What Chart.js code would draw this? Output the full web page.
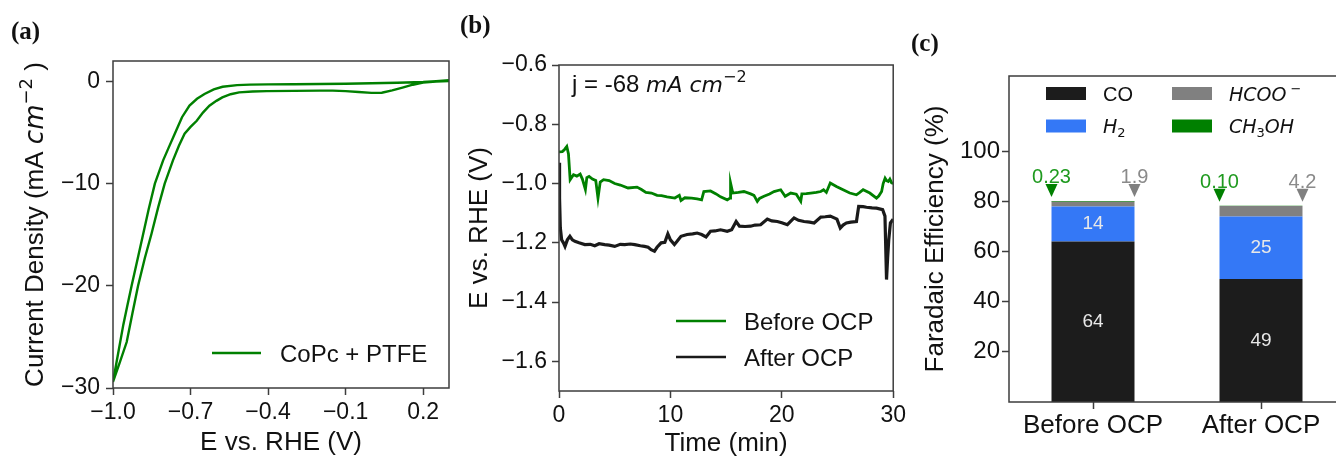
<!DOCTYPE html>
<html>
<head>
<meta charset="utf-8">
<script src="https://cdn.jsdelivr.net/npm/chart.js@4.4.0/dist/chart.umd.min.js"></script>
<style>
  html, body { margin: 0; padding: 0; background: #fff; width: 1336px; height: 457px; overflow: hidden; }
  body { position: relative; }
  canvas { position: absolute; top: 0; }
</style>
</head>
<body>
<canvas id="cvChart" width="460" height="457" style="left:0"></canvas>
<canvas id="cpChart" width="470" height="457" style="left:440px"></canvas>
<canvas id="feChart" width="460" height="457" style="left:900px"></canvas>
<script>
// (a) cyclic voltammogram, CoPc + PTFE (one loop: upper branch then lower branch)
const cvPotential = [
    0.30, 0.25, 0.20, 0.10, 0.00, -0.10, -0.20, -0.30, -0.40, -0.47,
    -0.52, -0.576, -0.61, -0.646, -0.675, -0.704, -0.733, -0.761, -0.785, -0.806,
    -0.838, -0.862, -0.883, -0.905, -0.928, -0.945, -0.960, -0.980, -1.000,
    -0.975, -0.947, -0.925, -0.903, -0.877, -0.851, -0.825, -0.800, -0.768, -0.745,
    -0.723, -0.700, -0.676, -0.652, -0.627, -0.600, -0.577, -0.545, -0.512, -0.460,
    -0.405, -0.30, -0.20, -0.15, -0.10, -0.05, 0.00, 0.04, 0.08, 0.12,
    0.16, 0.20, 0.25, 0.30
];
const cvCurrent = [
    0.12, 0.03, -0.05, -0.13, -0.18, -0.22, -0.25, -0.27, -0.29, -0.31,
    -0.36, -0.52, -0.78, -1.23, -1.70, -2.37, -3.50, -5.12, -6.50, -7.72,
    -10.0, -12.5, -14.9, -17.4, -20.0, -22.0, -23.8, -26.6, -29.4,
    -27.6, -25.5, -22.7, -20.0, -17.3, -14.9, -12.3, -10.0, -7.72, -6.30,
    -5.12, -4.45, -3.85, -3.05, -2.37, -1.90, -1.56, -1.25, -1.07, -0.99,
    -0.95, -0.92, -0.90, -0.90, -0.95, -1.03, -1.12, -1.10, -0.88, -0.60,
    -0.32, -0.12, -0.02, 0.05
];
const cvTicksX = [-1.0, -0.7, -0.4, -0.1, 0.2];
const cvTicksY = [0, -10, -20, -30];

// (b) chronopotentiometry at j = -68 mA cm-2
const timeBefore = [
    0.0, 0.3, 0.5, 0.7, 0.85, 1.0, 1.3, 1.6, 1.9, 2.1,
    2.37, 2.5, 2.7, 3.0, 3.3, 3.5, 3.7, 4.0, 4.5, 5.0,
    5.5, 6.2, 7.0, 7.4, 7.8, 8.3, 8.8, 9.2, 9.7, 10.4,
    10.8, 10.95, 11.3, 11.9, 12.4, 12.8, 13.0, 13.6, 14.1, 14.5,
    15.1, 15.35, 15.4, 15.6, 16.1, 16.6, 17.2, 17.5, 17.8, 18.0,
    18.4, 18.9, 19.3, 19.9, 20.3, 20.8, 21.3, 21.7, 21.8, 22.2,
    22.6, 23.1, 23.5, 23.75, 24.0, 24.35, 24.9, 25.5, 26.1, 26.7,
    27.0, 27.3, 27.9, 28.5, 28.7, 28.96, 29.1, 29.27, 29.4, 29.56,
    29.7, 29.86, 30.0
];
const potentialBefore = [
    -0.893, -0.892, -0.885, -0.875, -0.900, -0.987, -0.970, -0.975, -0.968, -0.985,
    -1.020, -0.980, -0.976, -0.985, -0.990, -1.049, -0.995, -0.987, -0.990, -1.000,
    -1.005, -1.015, -1.012, -1.020, -1.030, -1.032, -1.040, -1.041, -1.045, -1.049,
    -1.040, -1.057, -1.048, -1.049, -1.052, -1.055, -1.027, -1.025, -1.035, -1.045,
    -1.055, -1.049, -0.998, -1.032, -1.030, -1.027, -1.035, -1.040, -1.060, -1.050,
    -1.043, -1.035, -1.027, -1.021, -1.043, -1.032, -1.036, -1.060, -1.035, -1.034,
    -1.032, -1.030, -1.027, -1.021, -1.030, -0.998, -1.010, -1.021, -1.032, -1.038,
    -1.030, -1.021, -1.032, -1.049, -1.042, -1.027, -1.000, -0.982, -0.990, -0.993,
    -0.985, -0.998, -1.000
];
const timeAfter = [
    0.0, 0.05, 0.12, 0.24, 0.4, 0.54, 0.75, 0.98, 1.2, 1.43,
    1.8, 2.32, 2.8, 3.21, 3.6, 4.1, 4.5, 5.0, 5.5, 5.9,
    6.4, 6.8, 7.3, 7.68, 8.0, 8.27, 8.57, 8.8, 9.17, 9.5,
    9.77, 10.0, 10.36, 10.6, 10.95, 11.5, 12.0, 12.4, 12.8, 13.2,
    13.6, 14.0, 14.5, 15.1, 15.5, 15.9, 16.2, 16.7, 17.2, 17.6,
    18.1, 18.7, 19.1, 19.6, 20.0, 20.5, 21.1, 21.5, 22.0, 22.5,
    22.9, 23.5, 23.9, 24.35, 24.95, 25.25, 25.5, 25.8, 26.2, 26.7,
    26.9, 27.3, 27.6, 28.1, 28.5, 29.05, 29.26, 29.4, 29.5, 29.6,
    29.75, 30.0
];
const potentialAfter = [
    -0.930, -1.050, -1.150, -1.190, -1.200, -1.212, -1.190, -1.178, -1.190, -1.195,
    -1.200, -1.206, -1.205, -1.210, -1.203, -1.206, -1.208, -1.212, -1.205, -1.206,
    -1.204, -1.206, -1.210, -1.212, -1.215, -1.223, -1.228, -1.215, -1.200, -1.198,
    -1.170, -1.190, -1.206, -1.195, -1.178, -1.172, -1.170, -1.167, -1.172, -1.180,
    -1.161, -1.160, -1.156, -1.161, -1.156, -1.128, -1.144, -1.145, -1.144, -1.140,
    -1.139, -1.120, -1.126, -1.128, -1.132, -1.139, -1.116, -1.124, -1.128, -1.130,
    -1.133, -1.113, -1.112, -1.110, -1.120, -1.150, -1.140, -1.133, -1.130, -1.128,
    -1.077, -1.078, -1.080, -1.082, -1.083, -1.088, -1.110, -1.324, -1.250, -1.190,
    -1.133, -1.120
];
const cpTicksX = [0, 10, 20, 30];
const cpTicksY = [-0.6, -0.8, -1.0, -1.2, -1.4, -1.6];

// (c) Faradaic efficiency (%)
const conditions = ['Before OCP', 'After OCP'];
const feCO = [64, 49];
const feH2 = [14, 25];
const feHCOO = [1.9, 4.2];
const feCH3OH = [0.23, 0.10];
const feTicksY = [20, 40, 60, 80, 100];

const SANS = '"Liberation Sans", Arial, Helvetica, sans-serif';
const MATH = '"DejaVu Sans", sans-serif';
const SERIF = '"Liberation Serif", "DejaVu Serif", serif';
const INK = '#111';
const FRAME = '#3d3d3d';

// tick label with a real minus sign
const fmtMinus = digits => v => (v < 0 ? '\u2212' : '') + Math.abs(v).toFixed(digits);

// draw a run of text pieces (fonts / super- & subscripts), optionally rotated
function drawRich(ctx, segs, x, y, opts = {}) {
    ctx.save();
    ctx.translate(x, y);
    if (opts.rotate) ctx.rotate(-Math.PI / 2);
    ctx.textBaseline = 'alphabetic';
    ctx.textAlign = 'left';
    let width = 0;
    segs.forEach(s => { ctx.font = s.font; width += ctx.measureText(s.text).width; });
    let cx = opts.center ? -width / 2 : 0;
    segs.forEach(s => {
        ctx.font = s.font;
        ctx.fillStyle = s.color || opts.color || INK;
        ctx.fillText(s.text, cx, s.dy || 0);
        cx += ctx.measureText(s.text).width;
    });
    ctx.restore();
}

function drawTag(ctx, text, x, y) {
    ctx.save();
    ctx.font = `bold 25px ${SERIF}`;
    ctx.fillStyle = INK;
    ctx.textBaseline = 'alphabetic';
    ctx.fillText(text, x, y);
    ctx.restore();
}

const framePlugin = {
    id: 'frame',
    afterDraw(chart) {
        const { ctx, chartArea: a } = chart;
        ctx.save();
        ctx.strokeStyle = FRAME;
        ctx.lineWidth = 1.5;
        ctx.strokeRect(a.left, a.top, a.right - a.left, a.bottom - a.top);
        ctx.restore();
    }
};

function linearAxis(min, max, tickVals, fmt, size, isX, fontSize, pad) {
    return {
        type: 'linear', min, max,
        afterBuildTicks: s => { s.ticks = tickVals.map(v => ({ value: v })); },
        afterFit: s => { if (isX) s.height = size; else s.width = size; },
        grid: { display: true, drawOnChartArea: false, drawTicks: true, tickLength: 7, tickColor: FRAME, tickWidth: 1.5 },
        border: { display: false },
        ticks: { font: { family: SANS, size: fontSize }, color: INK, padding: pad, autoSkip: false, maxRotation: 0, callback: fmt }
    };
}

const baseOptions = (padTop, padRight) => ({
    responsive: false,
    animation: false,
    events: [],
    layout: { padding: { top: padTop, right: padRight, left: 0, bottom: 0 } },
    plugins: { legend: { display: false }, tooltip: { enabled: false } }
});

// ---------- (a) ----------
const cvDecor = {
    id: 'cvDecor',
    afterDraw(chart) {
        const { ctx, chartArea: a } = chart;
        const ds = chart.data.datasets[0];
        drawTag(ctx, '(a)', 11, 39);
        // legend
        ctx.save();
        ctx.strokeStyle = ds.borderColor;
        ctx.lineWidth = 2.4;
        ctx.beginPath();
        ctx.moveTo(a.left + 99, a.bottom - 35);
        ctx.lineTo(a.left + 148, a.bottom - 35);
        ctx.stroke();
        ctx.restore();
        drawRich(ctx, [{ text: ds.label, font: `24px ${SANS}` }], a.left + 167, a.bottom - 26.5);
        // axis titles
        drawRich(ctx, [{ text: 'E vs. RHE (V)', font: `26px ${SANS}` }], (a.left + a.right) / 2, 450, { center: true });
        drawRich(ctx, [
            { text: 'Current Density (mA ', font: `26px ${SANS}` },
            { text: 'cm', font: `italic 26px ${MATH}` },
            { text: '\u22122', font: `18px ${MATH}`, dy: -11 },
            { text: ' )', font: `26px ${SANS}` }
        ], 43, (a.top + a.bottom) / 2, { rotate: true, center: true });
    }
};

new Chart(document.getElementById('cvChart'), {
    type: 'line',
    data: {
        datasets: [{
            label: 'CoPc + PTFE',
            data: cvPotential.map((e, i) => ({ x: e, y: cvCurrent[i] })),
            borderColor: '#008000',
            borderWidth: 2.4,
            pointRadius: 0,
            tension: 0,
            fill: false
        }]
    },
    options: {
        ...baseOptions(61, 11),
        scales: {
            x: linearAxis(-1.0, 0.3, cvTicksX, fmtMinus(1), 69, true, 23, 4),
            y: linearAxis(-30, 2, cvTicksY, fmtMinus(0), 113, false, 23, 6)
        }
    },
    plugins: [framePlugin, cvDecor]
});

// ---------- (b) ----------
const cpDecor = {
    id: 'cpDecor',
    afterDraw(chart) {
        const { ctx, chartArea: a } = chart;
        drawTag(ctx, '(b)', 20, 33);
        drawRich(ctx, [
            { text: 'j = -68 ', font: `24px ${SANS}` },
            { text: 'mA', font: `italic 22px ${MATH}` },
            { text: ' ', font: `22px ${MATH}` },
            { text: 'cm', font: `italic 22px ${MATH}` },
            { text: '\u22122', font: `16px ${MATH}`, dy: -10 }
        ], a.left + 13, a.top + 27);
        // legend
        chart.data.datasets.forEach((ds, k) => {
            const yRow = a.top + 256 + k * 36;
            ctx.save();
            ctx.strokeStyle = ds.borderColor;
            ctx.lineWidth = 2.4;
            ctx.beginPath();
            ctx.moveTo(a.left + 117, yRow);
            ctx.lineTo(a.left + 167, yRow);
            ctx.stroke();
            ctx.restore();
            drawRich(ctx, [{ text: ds.label, font: `24px ${SANS}` }], a.left + 185, yRow + 8.5);
        });
        drawRich(ctx, [{ text: 'Time (min)', font: `26px ${SANS}` }], (a.left + a.right) / 2, 451, { center: true });
        drawRich(ctx, [{ text: 'E vs. RHE (V)', font: `26px ${SANS}` }], 47, (a.top + a.bottom) / 2, { rotate: true, center: true });
    }
};

new Chart(document.getElementById('cpChart'), {
    type: 'line',
    data: {
        datasets: [{
            label: 'Before OCP',
            data: timeBefore.map((t, i) => ({ x: t, y: potentialBefore[i] })),
            borderColor: '#008000',
            borderWidth: 2.8,
            pointRadius: 0,
            tension: 0
        }, {
            label: 'After OCP',
            data: timeAfter.map((t, i) => ({ x: t, y: potentialAfter[i] })),
            borderColor: '#1a1a1a',
            borderWidth: 3.2,
            pointRadius: 0,
            tension: 0
        }]
    },
    options: {
        ...baseOptions(65, 15),
        scales: {
            x: linearAxis(0, 30, cpTicksX, fmtMinus(0), 66, true, 23, 4),
            y: linearAxis(-1.7, -0.6, cpTicksY, fmtMinus(1), 119, false, 23, 5)
        }
    },
    plugins: [framePlugin, cpDecor]
});

// ---------- (c) ----------
const richLabels = [
    [{ text: 'CO', font: `20px ${SANS}` }],
    [{ text: 'H', font: `italic 19px ${MATH}` }, { text: '2', font: `13px ${MATH}`, dy: 4 }],
    [{ text: 'HCOO', font: `italic 19px ${MATH}` }, { text: ' \u2212', font: `13px ${MATH}`, dy: -8 }],
    [{ text: 'CH', font: `italic 19px ${MATH}` }, { text: '3', font: `13px ${MATH}`, dy: 4 }, { text: 'OH', font: `italic 19px ${MATH}` }]
];
const legendOrder = [0, 2, 1, 3]; // row-major: CO, HCOO- / H2, CH3OH

function drawMarker(ctx, x, top, fill, text, textColor) {
    ctx.save();
    ctx.fillStyle = fill;
    ctx.beginPath();
    ctx.moveTo(x - 6, top - 17);
    ctx.lineTo(x + 6, top - 17);
    ctx.lineTo(x, top - 4);
    ctx.closePath();
    ctx.fill();
    ctx.font = `20px ${SANS}`;
    ctx.fillStyle = textColor;
    ctx.textAlign = 'center';
    ctx.textBaseline = 'alphabetic';
    ctx.fillText(text, x, top - 18);
    ctx.restore();
}

const feDecor = {
    id: 'feDecor',
    afterDatasetsDraw(chart) {
        const { ctx, scales: { y } } = chart;
        // numbers inside the CO and H2 segments
        [0, 1].forEach(di => {
            chart.getDatasetMeta(di).data.forEach((bar, i) => {
                ctx.save();
                ctx.font = `19px ${SANS}`;
                ctx.fillStyle = '#e8e8e8';
                ctx.textAlign = 'center';
                ctx.textBaseline = 'middle';
                ctx.fillText(String(chart.data.datasets[di].data[i]), bar.x, (bar.y + bar.base) / 2);
                ctx.restore();
            });
        });
        // CH3OH and HCOO- markers above each bar
        const bars = chart.getDatasetMeta(0).data;
        conditions.forEach((c, i) => {
            const top = y.getPixelForValue(feCO[i] + feH2[i] + feHCOO[i] + feCH3OH[i]);
            const half = bars[i].width / 2;
            drawMarker(ctx, bars[i].x - half, top, '#008000', feCH3OH[i].toFixed(2), '#1f9a1f');
            drawMarker(ctx, bars[i].x + half, top, '#808080', feHCOO[i].toFixed(1), '#8a8a8a');
        });
    },
    afterDraw(chart) {
        const { ctx, chartArea: a } = chart;
        drawTag(ctx, '(c)', 11, 51);
        legendOrder.forEach((di, k) => {
            const col = k % 2, row = Math.floor(k / 2);
            const bx = a.left + 37 + col * 126;
            const by = a.top + 11 + row * 32.5;
            ctx.save();
            ctx.fillStyle = chart.data.datasets[di].backgroundColor;
            ctx.fillRect(bx, by, 40, 13);
            ctx.restore();
            drawRich(ctx, richLabels[di], bx + 57, by + 13.5);
        });
        drawRich(ctx, [{ text: 'Faradaic Efficiency (%)', font: `26px ${SANS}` }], 43, (a.top + a.bottom) / 2, { rotate: true, center: true });
    }
};

const feYAxis = linearAxis(0, 130, feTicksY, v => String(v), 109, false, 24, 2);
feYAxis.stacked = true;

new Chart(document.getElementById('feChart'), {
    type: 'bar',
    data: {
        labels: conditions,
        datasets: [
            { label: 'CO', data: feCO, backgroundColor: '#1c1c1c' },
            { label: 'H2', data: feH2, backgroundColor: '#3478f6' },
            { label: 'HCOO-', data: feHCOO, backgroundColor: '#808080' },
            { label: 'CH3OH', data: feCH3OH, backgroundColor: '#008000' }
        ].map(d => ({ ...d, borderWidth: 0, categoryPercentage: 1.0, barPercentage: 0.494 }))
    },
    options: {
        ...baseOptions(76, 15),
        scales: {
            x: {
                stacked: true,
                afterFit: s => { s.height = 55; },
                grid: { display: true, offset: false, drawOnChartArea: false, drawTicks: true, tickLength: 7, tickColor: FRAME, tickWidth: 1.5 },
                border: { display: false },
                ticks: { font: { family: SANS, size: 26 }, color: INK, padding: 1, maxRotation: 0 }
            },
            y: feYAxis
        }
    },
    plugins: [framePlugin, feDecor]
});
</script>
</body>
</html>
